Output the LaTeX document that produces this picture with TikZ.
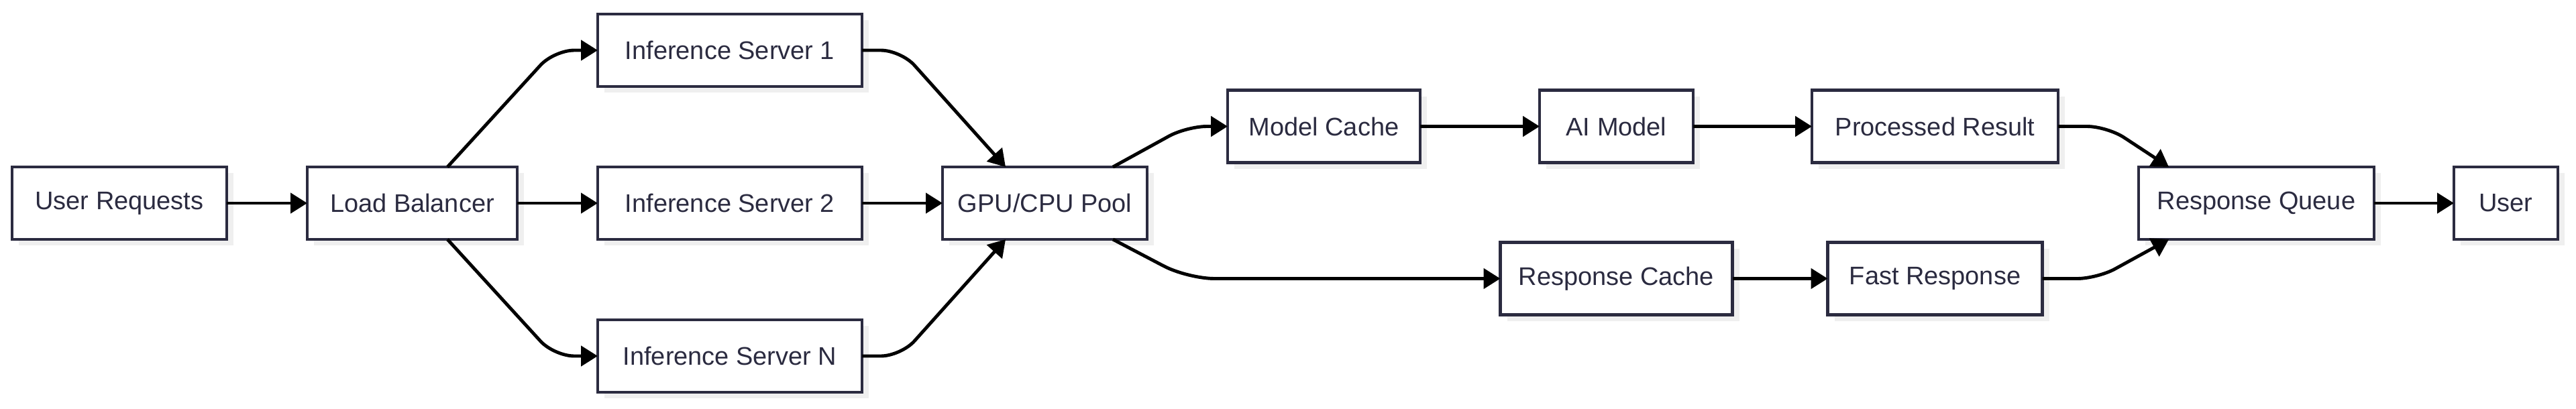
\documentclass[tikz,border=0pt]{standalone}
\usepackage{fontspec}
\setmainfont{Liberation Sans}
\usetikzlibrary{positioning,arrows.meta,shadows}
\definecolor{boxline}{HTML}{2B2B40}
\definecolor{shade}{HTML}{EFEFEF}
\tikzset{
  box/.style={draw=boxline, line width=1.3pt, fill=white, text=boxline,
    minimum height=1.08cm, inner sep=0pt, outer sep=0pt,
    font=\fontsize{10.8}{13}\selectfont,
    drop shadow={shadow xshift=0.1cm, shadow yshift=-0.09cm, fill=shade, opacity=1}},
  arr/.style={line width=1.4pt, -{Triangle[length=0.25cm, width=0.3cm]}}
}
\begin{document}
\begin{tikzpicture}[node distance=1.2cm]
                \useasboundingbox (0,0) rectangle (38.4,-6.09);
                % Nodes
                \node[box, minimum width=3.2cm] (ureq) at (1.78,-3.03) {User Requests};
                \node[box, minimum width=3.13cm, right=of ureq] (lb) {Load Balancer};
                \node[box, minimum width=3.94cm, right=of lb] (is2) {Inference Server 2};
                \node[box, minimum width=3.94cm, above=of is2] (is1) {Inference Server 1};
                \node[box, minimum width=3.94cm, below=of is2] (isn) {Inference Server N};
                \node[box, minimum width=3.05cm, right=of is2] (pool) {GPU/CPU Pool};
                \node[box, minimum width=2.87cm, right=of pool, yshift=1.145cm] (mcache) {Model Cache};
                \node[box, minimum width=2.29cm, right=1.78cm of mcache] (model) {AI Model};
                \node[box, minimum width=3.67cm, right=1.77cm of model] (result) {Processed Result};
                \node[box, minimum width=3.46cm, below=1.19cm of model] (rcache) {Response Cache};
                \node[box, minimum width=3.2cm, below=1.19cm of result] (fast) {Fast Response};
                \node[box, minimum width=3.51cm, right=of result, yshift=-1.145cm] (queue) {Response Queue};
                \node[box, minimum width=1.55cm, right=1.19cm of queue] (user) {User};

                % Arrows
                \draw[arr] (ureq) -- (lb);
                \draw[arr] (lb) -- (is2);
                \draw[arr, rounded corners=0.3cm] ([xshift=0.525cm]lb.north) -- ([xshift=-0.65cm]is1.west) -- (is1.west);
                \draw[arr, rounded corners=0.3cm] ([xshift=0.525cm]lb.south) -- ([xshift=-0.65cm]isn.west) -- (isn.west);
                \draw[arr, rounded corners=0.3cm] (is1.east) -- ([xshift=0.58cm]is1.east) -- ([xshift=-0.585cm]pool.north);
                \draw[arr] (is2) -- (pool);
                \draw[arr, rounded corners=0.3cm] (isn.east) -- ([xshift=0.58cm]isn.east) -- ([xshift=-0.585cm]pool.south);
                \draw[arr, rounded corners=0.3cm] ([xshift=1.015cm]pool.north) -- ([xshift=-0.61cm]mcache.west) -- (mcache.west);
                \draw[arr, rounded corners=0.4cm] ([xshift=1.015cm]pool.south) -- ([xshift=-4.66cm]rcache.west) -- (rcache.west);
                \draw[arr] (mcache) -- (model);
                \draw[arr] (model) -- (result);
                \draw[arr] (rcache) -- (fast);
                \draw[arr, rounded corners=0.3cm] (result.east) -- ([xshift=0.73cm]result.east) -- ([xshift=-1.305cm]queue.north);
                \draw[arr, rounded corners=0.3cm] (fast.east) -- ([xshift=0.82cm]fast.east) -- ([xshift=-1.305cm]queue.south);
                \draw[arr] (queue) -- (user);
        \end{tikzpicture}
\end{document}
